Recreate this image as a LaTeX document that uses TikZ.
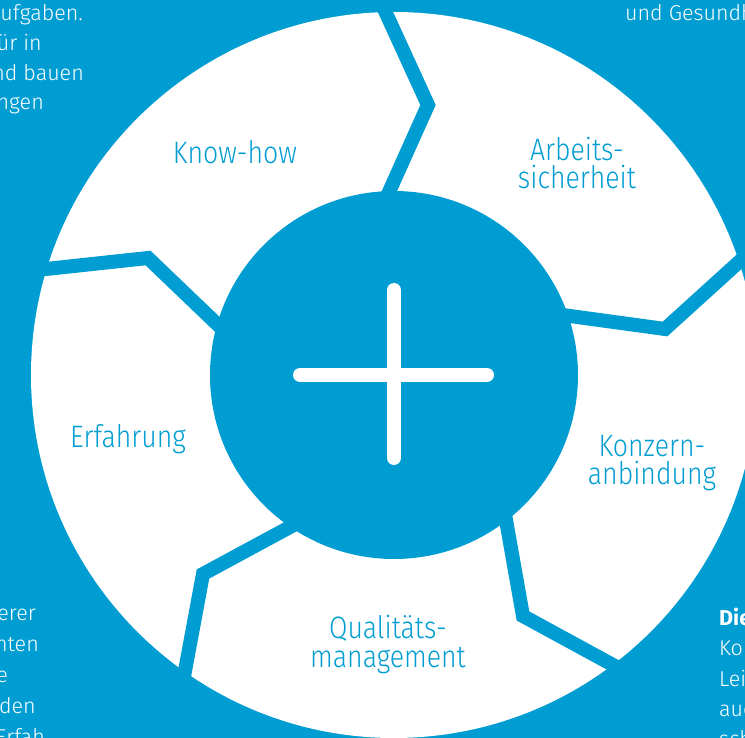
\documentclass[tikz,border=0pt]{standalone}
\usepackage{fontspec}
\setmainfont{Fira Sans}[UprightFont={* Light}, BoldFont={* Bold}, FakeStretch=0.86]
\newfontfamily\sidefont{Fira Sans}[UprightFont={* Light}, BoldFont={* Bold}]
\usetikzlibrary{calc}
\definecolor{cblue}{RGB}{0,157,211}
\begin{document}
\begin{tikzpicture}[x=1pt,y=-1pt,
  sepline/.style={draw=cblue, line width=14pt, line join=miter, miter limit=10},
  lbl/.style={text=cblue, font=\fontsize{31}{29}\selectfont, inner sep=0pt, anchor=base},
  sidel/.style={text=white, font=\sidefont\fontsize{21.5}{30}\selectfont, inner sep=0pt, anchor=base east},
  sider/.style={text=white, font=\sidefont\fontsize{21.5}{30}\selectfont, inner sep=0pt, anchor=base west},
  plusbar/.style={draw=white, line width=14pt, line cap=round}]
\useasboundingbox (0,0) rectangle (745,738);
\clip (0,0) rectangle (745,738);
\fill[cblue] (0,0) rectangle (745,738);
\coordinate (C) at (394,375);
\fill[white] (C) circle[radius=363];
% separators
\coordinate (I1) at (389,192); \coordinate (A1) at (428,105); \coordinate (O1) at (385,11);
\coordinate (I2) at (570,316); \coordinate (A2) at (665,329); \coordinate (O2) at (740,261);
\coordinate (I3) at (506,520); \coordinate (A3) at (523,616); \coordinate (O3) at (613,665);
\coordinate (I4) at (290,527); \coordinate (A4) at (203,574); \coordinate (O4) at (185,671);
\coordinate (I5) at (218,325); \coordinate (A5) at (148,258); \coordinate (O5) at (46,269);
\foreach \k in {1,...,5}{
  \draw[sepline] ($(A\k)!1.25!(I\k)$) -- (A\k) -- ($(A\k)!1.2!(O\k)$);
}
\fill[cblue] (C) circle[radius=184];
% plus
\coordinate (PL) at (300,375); \coordinate (PR) at (487,375);
\coordinate (PT) at (394,290); \coordinate (PB) at (394,458);
\draw[plusbar] (PL) -- (PR);
\draw[plusbar] (PT) -- (PB);
% labels
\node[lbl] (kh) at (235,164) {Know-how};
\node[lbl] (as1) at (577,161) {Arbeits-};
\node[lbl] (as2) at (577,189) {sicherheit};
\node[lbl] (ka1) at (652,456) {Konzern-};
\node[lbl] (ka2) at (652,484) {anbindung};
\node[lbl] (qm1) at (388,638) {Qualitäts-};
\node[lbl] (qm2) at (388,667) {management};
\node[lbl] (ef) at (128,447) {Erfahrung};
% side texts
\node[sidel] (tl1) at (83,21) {ufgaben.};
\node[sidel] (tl2) at (42,51) {ür in};
\node[sidel] (tl3) at (84,81) {nd bauen};
\node[sidel] (tl4) at (44,110) {ngen};
\node[sider] (tr1) at (625,21) {und Gesundh};
\node[sidel] (bl1) at (36,620) {erer};
\node[sidel] (bl2) at (39,651) {nten};
\node[sidel] (bl3) at (8,682) {e};
\node[sidel] (bl4) at (36,713) {den};
\node[sidel] (bl5) at (45,744) {Erfah};
\node[sider] (br1) at (719,625) {\textbf{Die}};
\node[sider] (br2) at (719,655) {Ko};
\node[sider] (br3) at (719,686) {Lei};
\node[sider] (br4) at (719,716) {auc};
\node[sider] (br5) at (719,746) {sch};
\end{tikzpicture}
\end{document}
